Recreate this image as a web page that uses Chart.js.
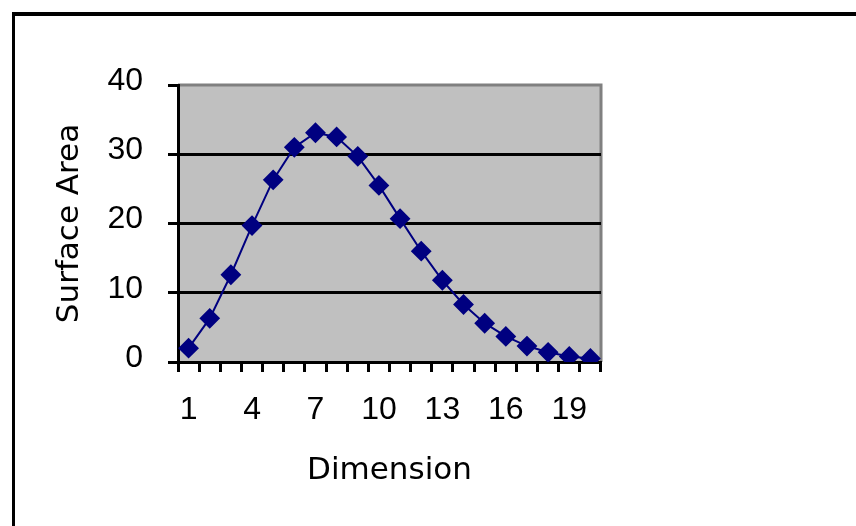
<!DOCTYPE html>
<html>
<head>
<meta charset="utf-8">
<script src="https://cdn.jsdelivr.net/npm/chart.js@4"></script>
<style>
  html, body { margin: 0; padding: 0; background: #fff; }
  canvas { display: block; }
</style>
</head>
<body>
<canvas id="areaChart" width="856" height="526"></canvas>
<script>
// dimensions 1..20 and surface area
const dimensions = ['1','2','3','4','5','6','7','8','9','10','11','12','13','14','15','16','17','18','19','20'];
const surfaceArea = [2.0, 6.3, 12.6, 19.7, 26.3, 31.0, 33.1, 32.5, 29.7, 25.5, 20.7, 16.0, 11.8, 8.3, 5.6, 3.7, 2.3, 1.4, 0.8, 0.5];
const yTicks = [0, 10, 20, 30, 40];

const tickFont = { family: "'Liberation Sans', Arial, sans-serif", size: 32 };
const titleFont = { family: "'DejaVu Sans', sans-serif", size: 31 };

// grey plot background, grey top/right edges and the black frame of the picture
const framePlugin = {
    id: 'frame',
    beforeDraw(chart) {
        const { ctx, chartArea: a } = chart;
        ctx.save();
        ctx.fillStyle = '#c0c0c0';
        ctx.fillRect(a.left, a.top, a.right - a.left, a.bottom - a.top);
        ctx.strokeStyle = '#808080';
        ctx.lineWidth = 3;
        ctx.beginPath();
        ctx.moveTo(a.left, a.top);
        ctx.lineTo(a.right, a.top);
        ctx.lineTo(a.right, a.bottom);
        ctx.stroke();
        ctx.fillStyle = '#000';
        ctx.fillRect(12, 12, chart.width, 4);
        ctx.fillRect(12, 12, 3, chart.height);
        ctx.restore();
    }
};

const ctx = document.getElementById('areaChart').getContext('2d');
const areaChart = new Chart(ctx, {
    type: 'line',
    data: {
        labels: dimensions,
        datasets: [{
            label: 'Surface Area',
            data: surfaceArea,
            borderColor: '#000080',
            backgroundColor: '#000080',
            borderWidth: 2,
            tension: 0,
            pointStyle: 'rectRot',
            pointRadius: 9,
            pointBackgroundColor: '#000080',
            pointBorderColor: '#000080',
            pointBorderWidth: 2
        }]
    },
    options: {
        responsive: false,
        animation: false,
        layout: { padding: { left: 0, top: 85, right: 255, bottom: 0 } },
        plugins: {
            legend: { display: false },
            tooltip: { enabled: false }
        },
        scales: {
            x: {
                offset: true,
                afterFit: (scale) => { scale.height = 164; },
                grid: {
                    offset: true,
                    drawOnChartArea: false,
                    tickLength: 10,
                    tickColor: '#000',
                    tickWidth: 3
                },
                border: { color: '#000', width: 3 },
                ticks: {
                    autoSkip: false,
                    maxRotation: 0,
                    color: '#000',
                    font: tickFont,
                    padding: 19,
                    callback: (value, index) => index % 3 === 0 ? dimensions[index] : ''
                },
                title: {
                    display: true,
                    text: 'Dimension',
                    color: '#000',
                    font: titleFont,
                    padding: { top: 0, bottom: 36 }
                }
            },
            y: {
                min: yTicks[0],
                max: yTicks[yTicks.length - 1],
                afterFit: (scale) => { scale.width = 178; },
                afterBuildTicks: (scale) => { scale.ticks = yTicks.map(v => ({ value: v })); },
                grid: {
                    color: (c) => (c.tick && c.tick.value > 0 && c.tick.value < 40) ? '#000' : 'rgba(0,0,0,0)',
                    lineWidth: 3,
                    tickLength: 10,
                    tickColor: '#000',
                    tickWidth: 3
                },
                border: { color: '#000', width: 3 },
                ticks: {
                    color: '#000',
                    font: tickFont,
                    padding: 25,
                    labelOffset: -4
                },
                title: {
                    display: true,
                    text: 'Surface Area',
                    color: '#000',
                    font: titleFont,
                    padding: { top: 51, bottom: 0 }
                }
            }
        }
    },
    plugins: [framePlugin]
});
</script>
</body>
</html>
